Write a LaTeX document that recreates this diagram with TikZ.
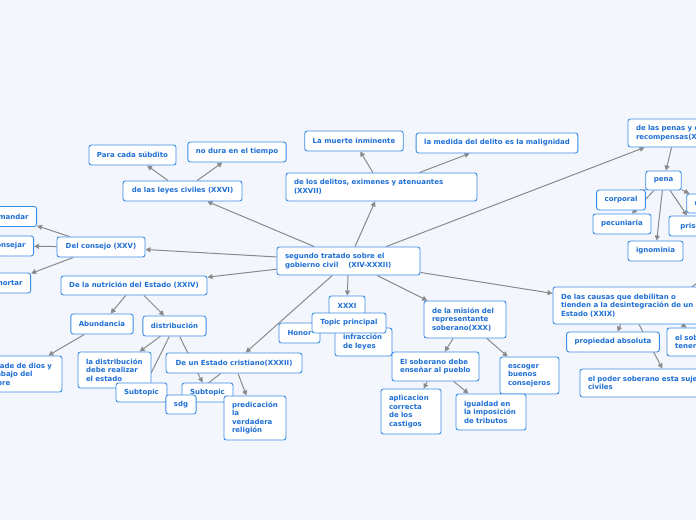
\documentclass[tikz,border=0pt]{standalone}
\usepackage{fontspec}
\setmainfont{DejaVu Sans}
\usetikzlibrary{arrows.meta}

\definecolor{mapbg}{HTML}{F3F6FD}
\definecolor{topicline}{HTML}{3A8DE6}
\definecolor{topictext}{HTML}{1E6FD6}
\definecolor{linkgray}{HTML}{8A8A8A}

\pgfdeclarelayer{back}
\pgfdeclarelayer{links}
\pgfsetlayers{back,links,main}

\tikzset{
  topic/.style={draw=topicline, fill=white, line width=0.9pt, rounded corners=2.5pt,
    text=topictext, font=\fontsize{7}{8.5}\selectfont\bfseries,
    inner xsep=8pt, inner ysep=2pt, minimum height=20pt},
  topicl/.style={topic, align=left},
  link/.style={draw=linkgray, line width=1pt, -{Triangle[width=5pt,length=5pt]}},
  linkplain/.style={draw=linkgray, line width=1pt}
}

\begin{document}
\begin{tikzpicture}[x=1pt,y=-1pt]
        \useasboundingbox (0,0) rectangle (696,520);
        \begin{pgfonlayer}{back}
            \fill[mapbg] (0,0) rectangle (696,520);
        \end{pgfonlayer}

        % main topic
        \node[topicl, text width=127pt, minimum height=28pt] (root) at (348.5,261)
            {segundo tratado sobre el\\gobierno civil\hspace{1.4em}(XIV-XXXII)};

        % XXVI
        \node[topic, minimum width=119pt] (leyes) at (182.5,191) {de las leyes civiles (XXVI)};
        \node[topic, minimum width=87pt] (subdito) at (132.5,155) {Para cada súbdito};
        \node[topic, minimum width=98pt] (nodura) at (237,152) {no dura en el tiempo};

        % XXVII
        \node[topicl, text width=175pt, minimum height=28pt] (delitos) at (381.5,187)
            {de los delitos, eximenes y atenuantes\\(XXVII)};
        \node[topic, minimum width=98pt] (muerte) at (354,141) {La muerte inminente};
        \node[topic, minimum width=160pt] (medida) at (497,143) {la medida del delito es la malignidad};

        % XXVIII
        \node[topicl, text width=116pt, minimum height=28pt] (penas) at (694,133)
            {de las penas y de las\\recompensas(XXVIII)};
        \node[topic, minimum width=35pt, minimum height=19pt] (pena) at (663.5,180.5) {pena};
        \node[topic, minimum width=50pt] (prision) at (694,226) {prisión};
        \node[topic, minimum width=44pt, minimum height=19pt] (capital) at (709,203.5) {muerte};
        \node[topic, minimum width=48pt] (corporal) at (621,200) {corporal};
        \node[topic, minimum width=58pt] (pecuniaria) at (622,224) {pecuniaria};
        \node[topic, minimum width=55pt] (ignominia) at (655.5,251) {ignominia};

        % XXV
        \node[topic, minimum width=88pt] (consejo) at (101,247) {Del consejo (XXV)};
        \node[topic, anchor=east] (mandar) at (37,216.5) {comandar};
        \node[topic, anchor=east] (aconsejar) at (34,246) {aconsejar};
        \node[topic, anchor=east] (exhortar) at (31,283) {exhortar};

        % XXIV
        \node[topic, minimum width=146pt, minimum height=19pt] (nutricion) at (134,285.5) {De la nutrición del Estado (XXIV)};
        \node[topic, minimum width=62pt] (abundancia) at (102,324) {Abundancia};
        \node[topic, minimum width=63pt] (distribucion) at (174.5,326) {distribución};
        \node[topicl, text width=74pt, minimum height=36pt] (bondad) at (17,374)
            {bondade de dios y\\el trabajo del\\hombre};
        \node[topicl, text width=57pt, minimum height=36pt] (estadodist) at (114.5,370)
            {la distribución\\debe realizar\\el estado};
        \node[topic, minimum width=51pt, minimum height=19pt] (subtopicA) at (141.5,392.5) {Subtopic};

        % XXXII
        \node[topic, minimum width=136pt] (cristiano) at (234,363) {De un Estado cristiano(XXXII)};
        \node[topic, minimum width=51pt, minimum height=19pt] (subtopicB) at (207.5,392.5) {Subtopic};
        \node[topic, minimum width=30pt, minimum height=19pt] (sdg) at (181,404.5) {sdg};
        \node[topicl, text width=46pt, minimum height=44pt] (religion) at (255,418)
            {predicación\\la\\verdadera\\religión};

        % XXXI
        \node[topic, minimum width=36pt, minimum height=19pt] (xxxi) at (347,305.5) {XXXI};
        \node[topic, minimum width=41pt] (honor) at (299.5,333) {Honor};
        \node[topicl, text width=41pt, minimum height=28pt] (infraccion) at (363.5,342)
            {infracción\\de leyes};
        \node[topic, minimum width=74pt] (principal) at (349,323) {Topic principal};

        % XXX
        \node[topicl, text width=66pt, minimum height=37pt] (mision) at (465,319.5)
            {de la misión del\\representante\\soberano(XXX)};
        \node[topicl, text width=71pt, minimum height=29pt] (ensenar) at (435.5,366.5)
            {El soberano debe\\enseñar al pueblo};
        \node[topicl, text width=43pt, minimum height=37pt] (consejeros) at (529.5,375.5)
            {escoger\\buenos\\consejeros};
        \node[topicl, text width=44pt, minimum height=45pt] (castigos) at (411,411.5)
            {aplicacion\\correcta\\de los\\castigos};
        \node[topicl, text width=54pt, minimum height=36pt] (tributos) at (491,412)
            {igualdad en\\la imposición\\de tributos};

        % XXIX
        \node[topicl, text width=136pt, minimum height=37pt] (causas) at (629,305.5)
            {De las causas que debilitan o\\tienden a la desintegración de un\\Estado (XXIX)};
        \node[topic, minimum width=92pt] (propiedad) at (613,342) {propiedad absoluta};
        \node[topicl, text width=75pt, minimum height=28pt] (limites) at (712.5,342)
            {el soberano debe\\tener límites};
        \node[topicl, text width=164pt, minimum height=28pt] (sujeto) at (670,383)
            {el poder soberano esta sujeto a leyes\\civiles};
        \coordinate (offright) at (705,278);

        \begin{pgfonlayer}{links}
            \draw[link] (root) -- (leyes);
            \draw[link] (leyes) -- (subdito);
            \draw[link] (leyes) -- (nodura);
            \draw[link] (root) -- (delitos);
            \draw[link] (delitos) -- (muerte);
            \draw[link] (delitos) -- (medida);
            \draw[link] (root) -- ([xshift=17pt]penas.south west);
            \draw[link] ([xshift=44pt]penas.south west) -- (pena);
            \draw[link] (pena) -- (corporal.north east);
            \draw[link] (pena) -- (pecuniaria);
            \draw[link] (pena) -- (ignominia);
            \draw[link] (pena) -- (prision);
            \draw[link] (pena) -- (capital);
            \draw[link] (root) -- (consejo);
            \draw[link] (consejo) -- (mandar);
            \draw[link] (consejo) -- (aconsejar);
            \draw[link] (consejo) -- (exhortar);
            \draw[link] (root) -- (nutricion);
            \draw[link] (nutricion) -- (abundancia);
            \draw[link] (nutricion) -- (distribucion);
            \draw[link] (abundancia) -- (bondad);
            \draw[link] (distribucion) -- (estadodist);
            \draw[link] (distribucion) -- (subtopicA);
            \draw[link] (distribucion) -- (subtopicB);
            \draw[link] (root) -- (cristiano);
            \draw[link] (cristiano) -- (sdg);
            \draw[link] (cristiano) -- (religion);
            \draw[link] (root) -- (xxxi);
            \draw[link] (root) -- (mision);
            \draw[link] (mision) -- (ensenar);
            \draw[link] (mision) -- (consejeros);
            \draw[link] (ensenar) -- (castigos);
            \draw[link] (ensenar) -- (tributos);
            \draw[link] (root) -- (causas);
            \draw[link] (causas) -- (propiedad);
            \draw[link] ([xshift=53pt]causas.south) -- ([xshift=-26pt]limites.north);
            \draw[link] (causas) -- (sujeto);
            \draw[linkplain] (offright) -- ([xshift=63pt]causas.north);
        \end{pgfonlayer}
\end{tikzpicture}
\end{document}
